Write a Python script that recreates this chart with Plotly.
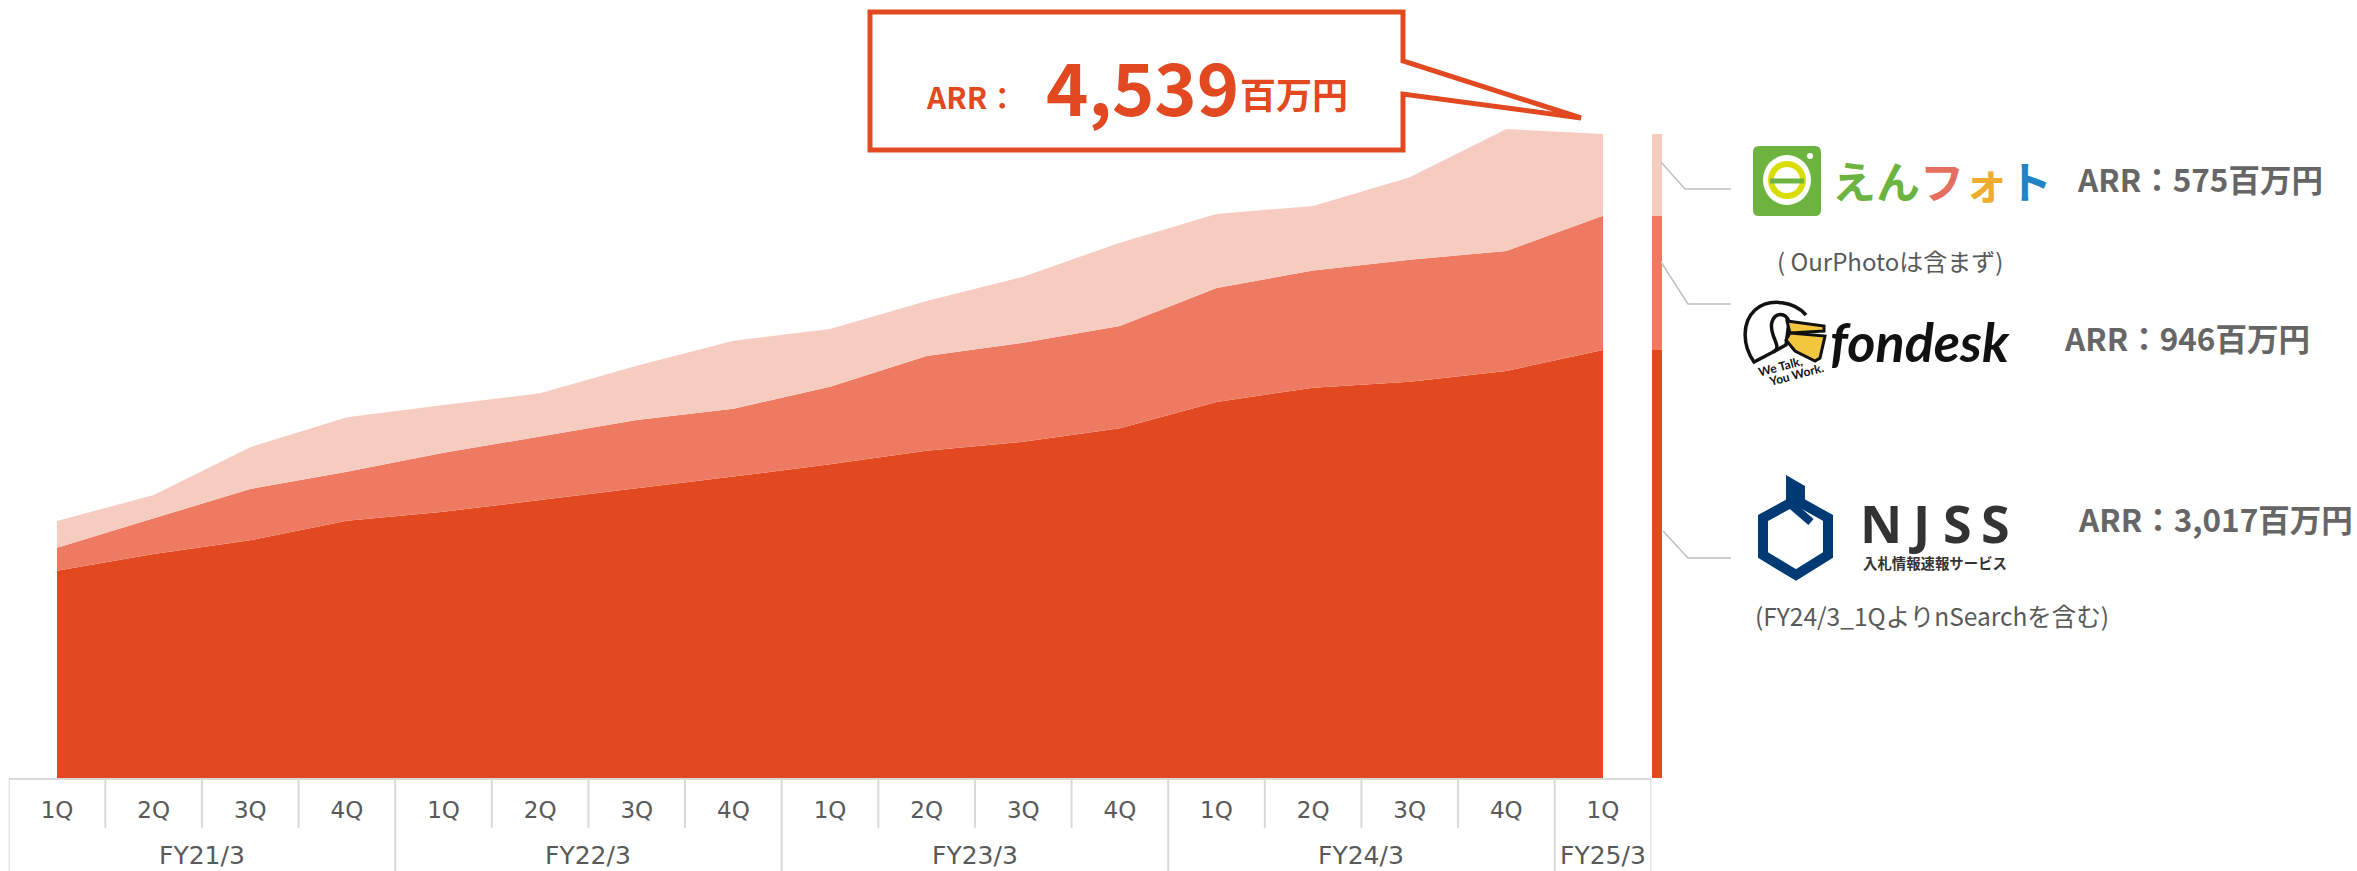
import plotly.graph_objects as go

W, H = 2357, 871
fiscal = ["FY21/3"]*4 + ["FY22/3"]*4 + ["FY23/3"]*4 + ["FY24/3"]*4 + ["FY25/3"]
quarter = ["1Q","2Q","3Q","4Q"]*4 + ["1Q"]
njss =    [1461,1579,1675,1813,1877,1959,2042,2124,2211,2307,2370,2465,2650,2751,2793,2869,3017]
fondesk = [ 162, 251, 362, 346, 416, 447, 481, 479, 547, 667, 698, 721, 804, 825, 860, 845, 946]
enphoto = [ 188, 165, 294, 383, 336, 305, 383, 479, 407, 388, 465, 587, 521, 456, 581, 860, 575]

RED, MID, LIGHT = "#E24920", "#EE7B61", "#F7CCC0"
GREY = "#595959"
ARR_GREY = "#666666"
FONT = "Noto Sans CJK JP"
AXIS_FONT = "DejaVu Sans"
GRID = "#D9D9D9"

names = ["NJSS", "fondesk", "えんフォト"]
series = [njss, fondesk, enphoto]
colors = [RED, MID, LIGHT]
idx = list(range(len(quarter)))

fig = go.Figure()
for n, s, c in zip(names, series, colors):
    fig.add_trace(go.Scatter(x=idx, y=s, name=n, stackgroup="a", mode="none",
                             fillcolor=c, line=dict(width=0), xaxis="x", yaxis="y"))
    fig.add_trace(go.Bar(x=["FY25/3 1Q"], y=[s[-1]], name=n, marker=dict(color=c, line=dict(width=0)),
                         width=1, xaxis="x2", yaxis="y"))

def X(p): return p / W
def Y(p): return 1 - p / H

def path(cmds, fill=None, line=None, lw=0):
    out = []
    for c in cmds:
        if c == "Z":
            out.append("Z")
        else:
            k, *v = c
            pts = [f"{X(v[i]):.5f},{Y(v[i+1]):.5f}" for i in range(0, len(v), 2)]
            out.append(k + " ".join(pts))
    fig.add_shape(type="path", xref="paper", yref="paper", path=" ".join(out),
                  fillcolor=fill or "rgba(0,0,0,0)", line=dict(color=line or "rgba(0,0,0,0)", width=lw))

def poly(points, fill=None, line=None, lw=0, close=True):
    cmds = [("M",)+tuple(points[0])] + [("L",)+tuple(p) for p in points[1:]]
    if close:
        cmds.append("Z")
    path(cmds, fill, line, lw)

def text(px, py, s, size, color=GREY, anchor="left", font=FONT, bold=False, angle=0):
    fig.add_annotation(xref="paper", yref="paper", x=X(px), y=Y(py), text=f"<b>{s}</b>" if bold else s,
                       showarrow=False, xanchor=anchor, yanchor="middle", align=anchor, textangle=angle,
                       font=dict(size=size, color=color, family=font), borderpad=0, borderwidth=0)

# category table under the chart
def vline(i, y1):
    fig.add_shape(type="line", xref="x", yref="paper", x0=i-0.5, x1=i-0.5, y0=Y(779), y1=Y(y1),
                  line=dict(color=GRID, width=2))
for i in idx:
    vline(i, 871 if (i == 0 or fiscal[i] != fiscal[i-1]) else 828)
vline(idx[-1] + 1, 871)
fig.add_shape(type="line", xref="x", yref="paper", x0=-0.5, x1=idx[-1]+0.5, y0=Y(779), y1=Y(779),
              line=dict(color=GRID, width=2))
for fy in dict.fromkeys(fiscal):
    members = [i for i in idx if fiscal[i] == fy]
    fig.add_annotation(xref="x", yref="paper", x=sum(members)/len(members), y=Y(855), text=fy, showarrow=False,
                       yanchor="middle", font=dict(size=25, color=GREY, family=AXIS_FONT))

# callout
poly([(870,12),(1403,12),(1403,61),(1581,118),(1403,94),(1403,150),(870,150)], fill="white", line=RED, lw=5)
text(926, 96, "ARR：", 30, RED, bold=True)
text(1046, 84, "4,539", 72, RED, bold=True)
text(1240, 93, "百万円", 36, RED, bold=True)

# leader lines
GL = "#BFBFBF"
poly([(1661,162),(1685,189),(1731,189)], line=GL, lw=1.5, close=False)
poly([(1661,262),(1688,304),(1731,304)], line=GL, lw=1.5, close=False)
poly([(1663,531),(1688,558),(1731,558)], line=GL, lw=1.5, close=False)

# えんフォト logo
G = "#6CB33F"
path([("M",1759,146),("L",1815,146),("Q",1821,146,1821,152),("L",1821,210),("Q",1821,216,1815,216),
      ("L",1759,216),("Q",1753,216,1753,210),("L",1753,152),("Q",1753,146,1759,146),"Z"], fill=G)
fig.add_shape(type="circle", xref="paper", yref="paper", x0=X(1763), x1=X(1811), y0=Y(155), y1=Y(205),
              fillcolor="white", line=dict(width=0))
fig.add_shape(type="circle", xref="paper", yref="paper", x0=X(1807), x1=X(1813), y0=Y(153), y1=Y(159),
              fillcolor="white", line=dict(width=0))
fig.add_shape(type="circle", xref="paper", yref="paper", x0=X(1771), x1=X(1803), y0=Y(164), y1=Y(196),
              fillcolor="white", line=dict(color="#D9DE00", width=6))
fig.add_shape(type="line", xref="paper", yref="paper", x0=X(1770), x1=X(1804), y0=Y(181), y1=Y(181),
              line=dict(color=G, width=5))
logo = "".join(f"<span style='color:{c}'>{s}</span>" for s, c in
               [("え",G),("ん",G),("フ","#E56F5E"),("ォ","#F0AC2F"),("ト","#2383C5")])
text(1832, 180, logo, 44, G, bold=True)
text(2077, 178, "ARR：575百万円", 31.5, ARR_GREY, bold=True)
text(1777, 260, "( OurPhotoは含まず)", 24, GREY)

# fondesk logo
K = "#111111"
path([("M",1806,315),("C",1795,302,1770,297,1755,310),("C",1742,322,1742,345,1754,362),
      ("L",1773,352),("C",1784,348,1768,335,1772,322),("C",1775,312,1786,312,1789,322)], line=K, lw=3.5)
path([("M",1789,322),("L",1786,345),("L",1773,352)], line=K, lw=3.5)
poly([(1787,321),(1824,326),(1824,331),(1790,333)], fill="#F3C63F", line=K, lw=3)
poly([(1790,333),(1825,336),(1820,358),(1815,361),(1795,351),(1786,340)], fill="#F3C63F", line=K, lw=3)
text(1780, 367, "We Talk,", 12, K, anchor="center", bold=True, angle=-15, font="Lato")
text(1796, 375, "You Work.", 12, K, anchor="center", bold=True, angle=-15, font="Lato")
text(1830, 342, "<i>fondesk</i>", 54, K, font="Lato", bold=True)
text(2064, 337, "ARR：946百万円", 31.5, ARR_GREY, bold=True)

# NJSS logo
NB = "#003A75"
poly([(1796,500),(1828,518),(1828,555),(1796,575),(1763,555),(1763,518)], line=NB, lw=10)
poly([(1786,475),(1805,486),(1805,508),(1786,508)], fill=NB)
fig.add_shape(type="line", xref="paper", yref="paper", x0=X(1789), x1=X(1811), y0=Y(503), y1=Y(522),
              line=dict(color=NB, width=8))
for s, px in [("N",1881),("J",1919),("S",1957),("S",1995)]:
    text(px, 522, s, 52, "#333333", anchor="center", font="Noto Sans", bold=True)
text(1863, 562, "入札情報速報サービス", 14.4, "#333333", bold=True)
text(2078, 518, "ARR：3,017百万円", 31.5, ARR_GREY, bold=True)
text(1755, 615, "(FY24/3_1QよりnSearchを含む)", 24.5, GREY)

fig.update_layout(
    width=W, height=H, autosize=False, paper_bgcolor="white", plot_bgcolor="white",
    margin=dict(l=0, r=0, t=0, b=0), showlegend=False, barmode="stack", bargap=0,
    font=dict(family=FONT, color=GREY),
    yaxis=dict(domain=[93/H, 1], range=[0, 5483], visible=False, fixedrange=True),
    xaxis=dict(domain=[8.7/W, 1651.3/W], range=[-0.5, 16.5], anchor="y", automargin=False,
               showgrid=False, zeroline=False, showline=False,
               tickmode="array", tickvals=idx, ticktext=quarter, ticks="", ticklabelstandoff=16,
               tickfont=dict(size=23, color=GREY, family=AXIS_FONT)),
    xaxis2=dict(domain=[1652/W, 1662/W], anchor="y", visible=False, type="category", range=[-0.5, 0.5]),
)
fig.write_html("out.html", config={"displayModeBar": False}, post_script="document.body.style.margin='0';")
